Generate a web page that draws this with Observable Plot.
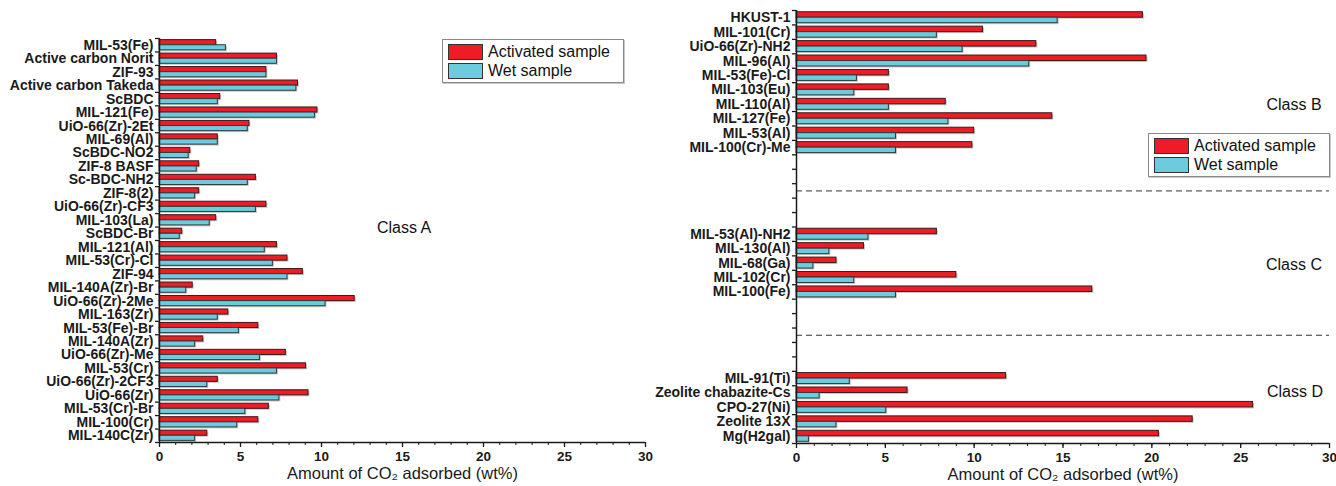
<!DOCTYPE html>
<html>
<head>
<meta charset="utf-8">
<script src="https://cdn.jsdelivr.net/npm/d3@7"></script>
<script src="https://cdn.jsdelivr.net/npm/@observablehq/plot@0.6"></script>
<style>
  html, body { margin: 0; padding: 0; background: #fff; }
  #wrap { position: relative; width: 1336px; height: 486px; font-family: "Liberation Sans", Arial, sans-serif; color: #111; }
  .panel { position: absolute; top: 0; }
  .legend { position: absolute; border: 1px solid #8a8a8a; box-shadow: 1px 1px 0 #c8c8c8; background: #fff; padding: 2px 5px; }
  .legend .row { display: flex; align-items: center; height: 19px; font-size: 16px; }
  .legend .sw { width: 35px; height: 16px; border: 1px solid #333; margin-right: 5px; box-sizing: border-box; }
  .cls { position: absolute; font-size: 16px; transform: translate(-50%, -50%); white-space: nowrap; }
</style>
</head>
<body>
<div id="wrap"></div>
<script>
// ---------------- data ----------------
const classANames = ["MIL-53(Fe)","Active carbon Norit","ZIF-93","Active carbon Takeda","ScBDC","MIL-121(Fe)","UiO-66(Zr)-2Et","MIL-69(Al)","ScBDC-NO2","ZIF-8 BASF","Sc-BDC-NH2","ZIF-8(2)","UiO-66(Zr)-CF3","MIL-103(La)","ScBDC-Br","MIL-121(Al)","MIL-53(Cr)-Cl","ZIF-94","MIL-140A(Zr)-Br","UiO-66(Zr)-2Me","MIL-163(Zr)","MIL-53(Fe)-Br","MIL-140A(Zr)","UiO-66(Zr)-Me","MIL-53(Cr)","UiO-66(Zr)-2CF3","UiO-66(Zr)","MIL-53(Cr)-Br","MIL-100(Cr)","MIL-140C(Zr)"];
const classAActivated = [3.5,7.25,6.6,8.55,3.75,9.75,5.55,3.6,1.9,2.45,5.95,2.45,6.6,3.5,1.4,7.25,7.9,8.85,2.05,12.05,4.25,6.1,2.7,7.8,9.05,3.6,9.2,6.75,6.1,2.95];
const classAWet       = [4.1,7.25,6.6,8.45,3.6,9.6,5.45,3.6,1.8,2.3,5.45,2.2,5.95,3.1,1.25,6.5,7.0,7.9,1.65,10.25,3.6,4.9,2.2,6.2,7.25,2.95,7.4,5.3,4.8,2.2];

const classBNames = ["HKUST-1","MIL-101(Cr)","UiO-66(Zr)-NH2","MIL-96(Al)","MIL-53(Fe)-Cl","MIL-103(Eu)","MIL-110(Al)","MIL-127(Fe)","MIL-53(Al)","MIL-100(Cr)-Me"];
const classBActivated = [19.5,10.5,13.5,19.7,5.2,5.2,8.4,14.4,10.0,9.9];
const classBWet       = [14.7,7.9,9.35,13.1,3.4,3.25,5.2,8.55,5.6,5.6];

const classCNames = ["MIL-53(Al)-NH2","MIL-130(Al)","MIL-68(Ga)","MIL-102(Cr)","MIL-100(Fe)"];
const classCActivated = [7.9,3.8,2.25,9.0,16.65];
const classCWet       = [4.05,1.85,0.95,3.25,5.6];

const classDNames = ["MIL-91(Ti)","Zeolite chabazite-Cs","CPO-27(Ni)","Zeolite 13X","Mg(H2gal)"];
const classDActivated = [11.8,6.25,25.7,22.3,20.4];
const classDWet       = [3.0,1.3,5.05,2.25,0.7];

const seriesNames = ["Activated sample","Wet sample"];
const classLabels = ["Class A","Class B","Class C","Class D"];
const xMajorTicks = [0,5,10,15,20,25,30];
const xTitle = "Amount of CO\u2082 adsorbed (wt%)";

// ---------------- style ----------------
const RED = "#ee1c25", CYAN = "#6ccbdc", AX = "#1a1a1a";
const FONT = "'Liberation Sans', Arial, sans-serif";

function rowsFrom(names, act, wet, start) {
  return names.map((n, i) => ({name: n, act: act[i], wet: wet[i], pos: start + i}));
}

function panel({rows, separators, n, width, marginLeft, marginRight, marginTop, marginBottom}) {
  const minor = d3.range(0, 31, 1);
  return Plot.plot({
    width, height: 486, marginLeft, marginRight, marginTop, marginBottom,
    style: {fontFamily: FONT, overflow: "visible", color: AX, background: "transparent"},
    x: {domain: [0, 30]},
    y: {domain: [0, n], reverse: true},
    marks: [
      // shadows
      Plot.rect(rows, {x1: 0, x2: "act", y1: d => d.pos + 0.12, y2: d => d.pos + 0.5, fill: "#9a9a9a", fillOpacity: 0.55, dx: 1.5, dy: 1.5}),
      Plot.rect(rows, {x1: 0, x2: "wet", y1: d => d.pos + 0.5, y2: d => d.pos + 0.88, fill: "#9a9a9a", fillOpacity: 0.55, dx: 1.5, dy: 1.5}),
      // bars
      Plot.rect(rows, {x1: 0, x2: "act", y1: d => d.pos + 0.12, y2: d => d.pos + 0.5, fill: RED, stroke: "#3a1a1a", strokeWidth: 1}),
      Plot.rect(rows, {x1: 0, x2: "wet", y1: d => d.pos + 0.5, y2: d => d.pos + 0.88, fill: CYAN, stroke: "#2e3b3e", strokeWidth: 1}),
      // separators
      Plot.ruleY(separators, {stroke: "#333", strokeWidth: 1, strokeDasharray: "6,4"}),
      // axis lines
      Plot.ruleX([0], {stroke: AX, strokeWidth: 1.5}),
      Plot.ruleY([n], {stroke: AX, strokeWidth: 1.5}),
      // y ticks at band boundaries
      Plot.axisY({ticks: d3.range(0, n + 1), tickSize: 4, tickFormat: () => "", label: null, strokeWidth: 1.3}),
      // category labels
      Plot.text(rows, {y: d => d.pos + 0.5, text: "name", frameAnchor: "left", textAnchor: "end", dx: -6, fontSize: 14, fontWeight: "bold", fill: AX}),
      // x ticks
      Plot.axisX({ticks: minor, tickSize: 3, tickFormat: () => "", label: null}),
      Plot.axisX({ticks: xMajorTicks, tickSize: 5, tickPadding: 4, fontSize: 13.5, fontWeight: "bold", label: null, strokeWidth: 1.3}),
      // x title
      Plot.text([xTitle], {text: d => d, frameAnchor: "bottom", dy: 36, fontSize: 16.5, fill: AX})
    ]
  });
}

const wrap = document.getElementById("wrap");

// left panel (class A)
const rowsA = rowsFrom(classANames, classAActivated, classAWet, 0);
const left = panel({rows: rowsA, separators: [], n: rowsA.length, width: 660, marginLeft: 159, marginRight: 15, marginTop: 38, marginBottom: 44});
left.classList.add("panel"); left.style.left = "0px";
wrap.appendChild(left);

// right panel (classes B, C, D)
const GAP = 5;
const bStart = 0;
const cStart = bStart + classBNames.length + GAP;
const dStart = cStart + classCNames.length + GAP;
const rowsR = [
  ...rowsFrom(classBNames, classBActivated, classBWet, bStart),
  ...rowsFrom(classCNames, classCActivated, classCWet, cStart),
  ...rowsFrom(classDNames, classDActivated, classDWet, dStart)
];
const seps = [bStart + classBNames.length + GAP / 2, cStart + classCNames.length + GAP / 2];
const nR = dStart + classDNames.length;
const right = panel({rows: rowsR, separators: seps, n: nR, width: 676, marginLeft: 136, marginRight: 7, marginTop: 10, marginBottom: 43});
right.classList.add("panel"); right.style.left = "660px";
wrap.appendChild(right);

// legends
function legend(left, top) {
  const box = document.createElement("div");
  box.className = "legend";
  box.style.left = left + "px"; box.style.top = top + "px"; box.style.width = "170px";
  [[seriesNames[0], RED], [seriesNames[1], CYAN]].forEach(([t, c]) => {
    const r = document.createElement("div"); r.className = "row";
    const s = document.createElement("div"); s.className = "sw"; s.style.background = c;
    const l = document.createElement("span"); l.textContent = t;
    r.appendChild(s); r.appendChild(l); box.appendChild(r);
  });
  wrap.appendChild(box);
}
legend(442, 39);
legend(1148, 133);

// class labels
[[classLabels[0], 404, 228], [classLabels[1], 1294, 105], [classLabels[2], 1294, 265], [classLabels[3], 1295, 392]].forEach(([t, x, y]) => {
  const d = document.createElement("div"); d.className = "cls";
  d.style.left = x + "px"; d.style.top = y + "px"; d.textContent = t;
  wrap.appendChild(d);
});
</script>
</body>
</html>
